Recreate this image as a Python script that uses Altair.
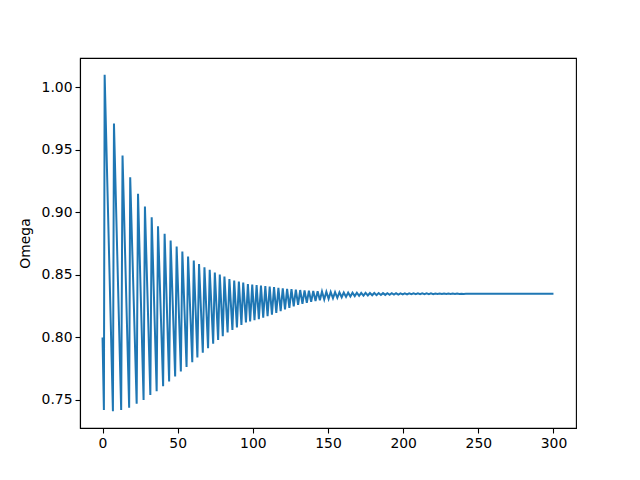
import altair as alt
import pandas as pd

# starting point
start_t = [0.0]
start_v = [0.800]

# local maxima (time, Omega)
peak_t = [1.4, 7.6, 13.3, 18.4, 23.6, 28.2, 32.7, 36.9, 41.3, 45.3,
          49.3, 53.1, 56.9, 60.7, 64.2, 67.8, 71.3, 74.7, 78.0, 81.1,
          84.4, 87.6, 90.7, 93.6, 96.7,
          99.6, 102.5, 105.4, 108.3, 111.2, 114.1, 117.0, 119.9, 122.8, 125.7,
          128.6, 131.5, 134.4, 137.3, 140.2, 143.1, 146.0, 148.9, 151.8, 154.7,
          157.6, 160.5, 163.4, 166.3, 169.2, 172.1, 175.0, 177.9, 180.8, 183.7,
          186.6, 189.5, 192.4, 195.3, 198.2, 201.1, 204.0, 206.9, 209.8, 212.7,
          215.6, 218.5, 221.4, 224.3, 227.2, 230.1, 233.0, 235.9, 238.8, 241.7,
          244.6, 247.5, 250.4]
peak_v = [1.010, 0.971, 0.9455, 0.928, 0.9148, 0.9046, 0.896, 0.8889, 0.8828, 0.8774,
          0.8726, 0.8686, 0.8646, 0.8614, 0.8587, 0.856, 0.854, 0.8518, 0.8502, 0.8486,
          0.8467, 0.8454, 0.8446, 0.8438, 0.8427,
          0.8423, 0.8419, 0.8414, 0.8410, 0.8406, 0.8402, 0.8397, 0.8393, 0.8389, 0.8386,
          0.8382, 0.8379, 0.8376, 0.8374, 0.8372, 0.8369, 0.8367, 0.8365, 0.8363, 0.8362,
          0.8360, 0.8359, 0.8358, 0.8357, 0.8357, 0.8356, 0.8356, 0.8355, 0.8355, 0.8355,
          0.8354, 0.8354, 0.8354, 0.8353, 0.8353, 0.8353, 0.8353, 0.8352, 0.8352, 0.8352,
          0.8352, 0.8352, 0.8351, 0.8351, 0.8351, 0.8351, 0.8351, 0.8351, 0.8350, 0.8350,
          0.8350, 0.8350, 0.8350]

# local minima (time, Omega)
trough_t = [0.9, 6.9, 12.4, 17.7, 22.7, 27.3, 31.8, 36.0, 40.3, 44.3,
            48.3, 52.1, 55.9, 59.7, 63.1, 66.7, 70.2, 73.6, 76.9, 80.0,
            83.2, 86.4, 89.4, 92.4, 95.4,
            98.2, 101.1, 104.0, 106.9, 109.8, 112.7, 115.6, 118.5, 121.4, 124.3,
            127.2, 130.1, 133.0, 135.9, 138.8, 141.7, 144.6, 147.5, 150.4, 153.3,
            156.2, 159.1, 162.0, 164.9, 167.8, 170.7, 173.6, 176.5, 179.4, 182.3,
            185.2, 188.1, 191.0, 193.9, 196.8, 199.7, 202.6, 205.5, 208.4, 211.3,
            214.2, 217.1, 220.0, 222.9, 225.8, 228.7, 231.6, 234.5, 237.4, 240.3,
            243.2, 246.1, 249.0]
trough_v = [0.742, 0.741, 0.742, 0.7438, 0.747, 0.750, 0.754, 0.757, 0.761, 0.7647,
            0.7687, 0.7727, 0.7764, 0.7802, 0.784, 0.7877, 0.7914, 0.795, 0.798, 0.801,
            0.804, 0.806, 0.808, 0.810, 0.812,
            0.8128, 0.8137, 0.8146, 0.8157, 0.8169, 0.8182, 0.8195, 0.8210, 0.8224, 0.8237,
            0.8249, 0.8260, 0.8269, 0.8277, 0.8284, 0.8291, 0.8297, 0.8303, 0.8308, 0.8313,
            0.8317, 0.8321, 0.8324, 0.8327, 0.8330, 0.8332, 0.8334, 0.8336, 0.8337, 0.8338,
            0.8339, 0.8340, 0.8341, 0.8342, 0.8343, 0.8344, 0.8344, 0.8345, 0.8345, 0.8345,
            0.8346, 0.8346, 0.8346, 0.8347, 0.8347, 0.8347, 0.8348, 0.8348, 0.8348, 0.8348,
            0.8349, 0.8349, 0.8349]

# settled tail
tail_t = [255.0, 270.0, 285.0, 300.0]
tail_v = [0.8350, 0.8350, 0.8350, 0.8350]

x_ticks = [0, 50, 100, 150, 200, 250, 300]
y_ticks = [0.75, 0.80, 0.85, 0.90, 0.95, 1.00]

df = pd.DataFrame({
    "t": start_t + peak_t + trough_t + tail_t,
    "omega": start_v + peak_v + trough_v + tail_v,
}).sort_values("t").reset_index(drop=True)

chart = alt.Chart(df).mark_line(color="#1f77b4", strokeWidth=2).encode(
    x=alt.X("t:Q",
            scale=alt.Scale(domain=[-15, 315], nice=False, zero=False),
            axis=alt.Axis(values=x_ticks, title=None, grid=False, labelFlush=False)),
    y=alt.Y("omega:Q",
            scale=alt.Scale(domain=[0.72755, 1.02345], nice=False, zero=False),
            axis=alt.Axis(values=y_ticks, format=".2f", title="Omega", grid=False,
                          titlePadding=9)),
    order="t:Q",
).properties(
    width=496, height=370,
    autosize=alt.AutoSizeParams(type="none"),
    padding={"left": 72, "top": 50, "right": 56, "bottom": 45},
).configure_view(
    stroke="black", strokeWidth=1.1
).configure_axis(
    domainColor="black", domainWidth=1.1,
    tickColor="black", tickWidth=1.1, tickSize=5,
    labelColor="black", titleColor="black",
    labelFont="DejaVu Sans", titleFont="DejaVu Sans",
    labelFontSize=13.9, titleFontSize=13.9, titleFontWeight="normal",
    labelPadding=3,
)

chart.save("out.html", embed_options={"renderer": "svg", "actions": False})
